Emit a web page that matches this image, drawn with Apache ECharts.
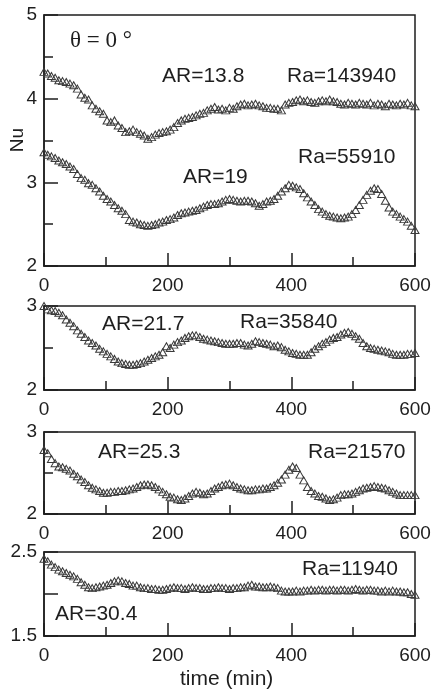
<!DOCTYPE html>
<html>
<head>
<meta charset="utf-8">
<script src="https://cdn.jsdelivr.net/npm/echarts@6/dist/echarts.min.js"></script>
<style>
html,body{margin:0;padding:0;background:#fff;}
#chart{width:435px;height:689px;}
</style>
</head>
<body>
<div id="chart"></div>
<script>
// time samples (min)
const TIME = [0,6,12,18,24,30,36,42,48,54,60,66,72,78,84,90,96,102,108,114,120,126,132,138,144,150,156,162,168,174,180,186,192,198,204,210,216,222,228,234,240,246,252,258,264,270,276,282,288,294,300,306,312,318,324,330,336,342,348,354,360,366,372,378,384,390,396,402,408,414,420,426,432,438,444,450,456,462,468,474,480,486,492,498,504,510,516,522,528,534,540,546,552,558,564,570,576,582,588,594,600];

// AR=13.8, Ra=143940
const NU_AR13_8 = [4.32,4.30,4.27,4.25,4.22,4.21,4.20,4.18,4.16,4.12,4.05,4.01,3.99,3.92,3.88,3.85,3.82,3.74,3.72,3.74,3.68,3.65,3.60,3.61,3.63,3.60,3.58,3.56,3.52,3.54,3.57,3.59,3.60,3.61,3.63,3.66,3.71,3.74,3.76,3.77,3.78,3.80,3.82,3.83,3.86,3.88,3.90,3.87,3.88,3.86,3.89,3.88,3.91,3.93,3.94,3.92,3.93,3.94,3.92,3.91,3.89,3.89,3.88,3.88,3.86,3.93,3.95,3.96,3.98,3.99,3.97,3.98,3.96,3.95,3.97,3.98,3.97,3.99,3.97,3.96,3.94,3.93,3.95,3.94,3.93,3.95,3.94,3.93,3.95,3.92,3.94,3.93,3.91,3.94,3.93,3.92,3.94,3.93,3.95,3.92,3.91];

// AR=19, Ra=55910
const NU_AR19 = [3.36,3.33,3.31,3.29,3.26,3.24,3.22,3.19,3.16,3.10,3.05,3.03,2.99,2.97,2.93,2.89,2.84,2.80,2.77,2.73,2.69,2.66,2.62,2.55,2.53,2.52,2.50,2.49,2.48,2.49,2.50,2.52,2.53,2.55,2.56,2.58,2.61,2.63,2.64,2.65,2.66,2.67,2.69,2.71,2.73,2.74,2.74,2.75,2.77,2.79,2.80,2.79,2.78,2.77,2.78,2.78,2.77,2.75,2.72,2.74,2.77,2.78,2.80,2.84,2.89,2.93,2.97,2.96,2.94,2.92,2.87,2.82,2.77,2.73,2.68,2.65,2.62,2.60,2.59,2.58,2.57,2.58,2.59,2.62,2.67,2.73,2.79,2.85,2.90,2.93,2.92,2.86,2.78,2.70,2.65,2.62,2.59,2.56,2.53,2.48,2.43];

// AR=21.7, Ra=35840
const NU_AR21_7 = [3.00,2.96,2.95,2.94,2.92,2.89,2.84,2.80,2.76,2.71,2.67,2.63,2.59,2.56,2.53,2.49,2.46,2.43,2.40,2.37,2.34,2.32,2.31,2.30,2.30,2.31,2.32,2.34,2.36,2.38,2.40,2.42,2.45,2.52,2.50,2.54,2.57,2.59,2.62,2.64,2.65,2.65,2.63,2.61,2.60,2.59,2.58,2.57,2.56,2.55,2.55,2.55,2.56,2.56,2.54,2.53,2.55,2.58,2.57,2.56,2.55,2.54,2.52,2.53,2.51,2.48,2.46,2.44,2.43,2.42,2.42,2.42,2.45,2.49,2.52,2.55,2.57,2.60,2.62,2.63,2.66,2.68,2.69,2.67,2.64,2.61,2.56,2.52,2.50,2.49,2.48,2.47,2.46,2.45,2.43,2.42,2.42,2.42,2.43,2.43,2.44];

// AR=25.3, Ra=21570
const NU_AR25_3 = [2.78,2.74,2.67,2.62,2.58,2.57,2.55,2.53,2.49,2.46,2.42,2.39,2.35,2.32,2.30,2.28,2.26,2.26,2.27,2.27,2.28,2.28,2.29,2.30,2.31,2.33,2.35,2.36,2.36,2.35,2.33,2.30,2.27,2.24,2.21,2.20,2.18,2.17,2.19,2.22,2.25,2.27,2.26,2.24,2.25,2.28,2.31,2.33,2.35,2.36,2.37,2.35,2.33,2.31,2.30,2.29,2.29,2.30,2.30,2.31,2.31,2.33,2.35,2.38,2.42,2.48,2.54,2.58,2.56,2.48,2.41,2.33,2.28,2.25,2.22,2.21,2.19,2.17,2.18,2.20,2.23,2.24,2.24,2.25,2.27,2.29,2.31,2.32,2.33,2.34,2.33,2.32,2.31,2.29,2.27,2.25,2.23,2.23,2.23,2.23,2.23];

// AR=30.4, Ra=11940
const NU_AR30_4 = [2.42,2.39,2.35,2.32,2.29,2.27,2.25,2.23,2.21,2.18,2.14,2.11,2.08,2.07,2.08,2.09,2.10,2.11,2.13,2.15,2.16,2.15,2.13,2.12,2.10,2.10,2.08,2.07,2.07,2.06,2.06,2.05,2.05,2.06,2.07,2.08,2.07,2.07,2.06,2.07,2.08,2.07,2.07,2.06,2.06,2.07,2.07,2.08,2.07,2.07,2.06,2.07,2.07,2.08,2.08,2.10,2.11,2.09,2.09,2.08,2.08,2.09,2.08,2.07,2.04,2.03,2.03,2.03,2.04,2.03,2.04,2.04,2.05,2.04,2.05,2.05,2.04,2.05,2.05,2.04,2.05,2.05,2.04,2.05,2.06,2.05,2.04,2.05,2.05,2.04,2.04,2.03,2.04,2.03,2.04,2.03,2.03,2.02,2.02,2.00,1.99];

// axis ranges per panel
const X_TICKS = [0, 200, 400, 600];
const Y_RANGES = [[2, 5, 1], [2, 3, 1], [2, 3, 1], [1.5, 2.5, 0.5]];

const INK = '#1e1e1e';
const FONT = 'Liberation Sans, Arial, sans-serif';
const SERIF = '"Liberation Serif", "Times New Roman", serif';

const grids = [
  {left: 44, right: 20, top: 15, height: 251},
  {left: 44, right: 20, top: 306, height: 84},
  {left: 44, right: 20, top: 432, height: 82},
  {left: 44, right: 20, top: 552, height: 84}
].map(g => Object.assign(g, {show: true, borderColor: INK, borderWidth: 1.5, backgroundColor: 'transparent'}));

const xAxes = grids.map((g, i) => ({
  type: 'value', gridIndex: i, min: X_TICKS[0], max: X_TICKS[X_TICKS.length - 1], interval: 200,
  axisLine: {show: true, onZero: false, lineStyle: {color: INK, width: 1.5}},
  axisTick: {show: true, inside: true, length: 13, lineStyle: {color: INK, width: 1.5}},
  minorTick: {show: true, splitNumber: 2, length: 9, lineStyle: {color: INK, width: 1.5}},
  splitLine: {show: false},
  axisLabel: {show: true, color: INK, fontFamily: FONT, fontSize: 19, margin: 10}
}));

const yAxes = Y_RANGES.map((r, i) => ({
  type: 'value', gridIndex: i, min: r[0], max: r[1], interval: r[2],
  axisLine: {show: true, onZero: false, lineStyle: {color: INK, width: 1.5}},
  axisTick: {show: true, inside: true, length: 14, lineStyle: {color: INK, width: 1.5}},
  minorTick: {show: i < 3, splitNumber: 2, length: 9, lineStyle: {color: INK, width: 1.5}},
  splitLine: {show: false},
  axisLabel: {
    show: true, color: INK, fontFamily: FONT, fontSize: 19, margin: 7,
    formatter: v => (i === 3 && Math.abs(v - 2) < 1e-9) ? '' : String(v)
  }
}));

function pairs(vals) { return TIME.map((t, k) => [t, vals[k]]); }

function tri(idx, vals) {
  return {
    type: 'line', xAxisIndex: idx, yAxisIndex: idx, data: pairs(vals),
    lineStyle: {width: 0, opacity: 0},
    symbol: 'triangle', symbolSize: [8, 7], showSymbol: true,
    itemStyle: {color: 'rgba(255,255,255,0)', borderColor: '#3a3a3a', borderWidth: 1},
    silent: true, animation: false
  };
}

const series = [
  tri(0, NU_AR13_8), tri(0, NU_AR19), tri(1, NU_AR21_7), tri(2, NU_AR25_3), tri(3, NU_AR30_4)
];

function label(x, y, text, size) {
  return {
    type: 'text', left: x, top: y,
    style: {text: text, fill: INK, font: size + 'px ' + FONT}
  };
}

const graphic = [
  {type: 'text', left: 70, top: 29, style: {text: 'θ = 0 °', fill: INK, font: '23px ' + SERIF}},
  label(162, 66, 'AR=13.8', 21),
  label(287, 66, 'Ra=143940', 21),
  label(298, 147, 'Ra=55910', 21),
  label(183, 167, 'AR=19', 21),
  label(102, 314, 'AR=21.7', 21),
  label(240, 312, 'Ra=35840', 21),
  label(98, 442, 'AR=25.3', 21),
  label(308, 442, 'Ra=21570', 21),
  label(302, 559, 'Ra=11940', 21),
  label(55, 604, 'AR=30.4', 21),
  label(180, 669, 'time (min)', 21),
  {type: 'text', left: 8, top: 128, rotation: Math.PI / 2,
   style: {text: 'Nu', fill: INK, font: '19px ' + FONT}}
];

const chart = echarts.init(document.getElementById('chart'), null, {renderer: 'canvas'});
chart.setOption({
  animation: false,
  backgroundColor: '#fff',
  grid: grids, xAxis: xAxes, yAxis: yAxes, series: series, graphic: graphic
});
</script>
</body>
</html>
